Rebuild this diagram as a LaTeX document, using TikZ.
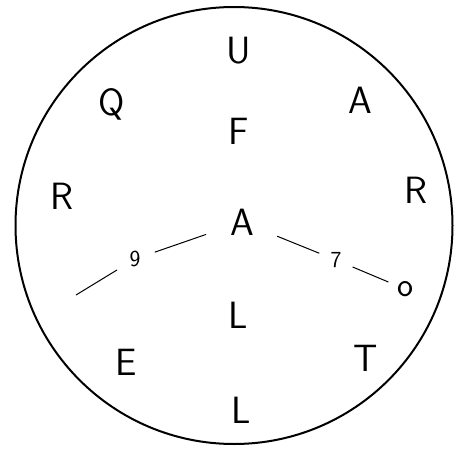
\documentclass[tikz,border=0pt]{standalone}
\usepackage{tikz}
\usetikzlibrary{positioning, calc}
\tikzset{
    letter/.style={font=\fontsize{38}{40}\selectfont\sffamily, inner sep=0pt},
    hub/.style={letter, circle, minimum size=76pt, outer sep=0pt},
    digit/.style={font=\fontsize{23}{25}\selectfont\sffamily, circle, inner sep=0pt, outer sep=0pt},
    spoke/.style={draw, line width=1pt},
    rim/.style={draw, line width=2pt}
}
\begin{document}
\begin{tikzpicture}[x=1pt, y=-1pt]
        \useasboundingbox (0,0) rectangle (469,450);
        \draw[rim] (234,225.5) circle (218.5);

        % outer ring of letters
        \node[letter] (U) at (239,51) {U};
        \node[letter] (Q) at (112,104) {Q};
        \node[letter] (A1) at (360,100) {A};
        \node[letter] (F) at (239,131) {F};
        \node[letter] (R1) at (62,196) {R};
        \node[letter] (R2) at (416,190) {R};
        \node[letter] (L1) at (238,315) {L};
        \node[letter] (E) at (126,362) {E};
        \node[letter] (T) at (366,358) {T};
        \node[letter] (L2) at (241,410) {L};

        % centre and spokes
        \node[hub] (A) at (242,222) {A};
        \node[digit, minimum size=42pt] (Nine) at (135,259) {9};
        \node[digit, minimum size=36pt] (Seven) at (336,260) {7};
        \node[font=\fontsize{34}{36}\selectfont\sffamily, circle, inner sep=0pt, outer sep=0pt, minimum size=36pt] (Ring) at (405,289) {o};
        \coordinate (LeftEnd) at (76,295);

        \draw[spoke] (A) -- (Nine);
        \draw[spoke] (Nine) -- (LeftEnd);
        \draw[spoke] (A) -- (Seven);
        \draw[spoke] (Seven) -- (Ring);
\end{tikzpicture}
\end{document}
